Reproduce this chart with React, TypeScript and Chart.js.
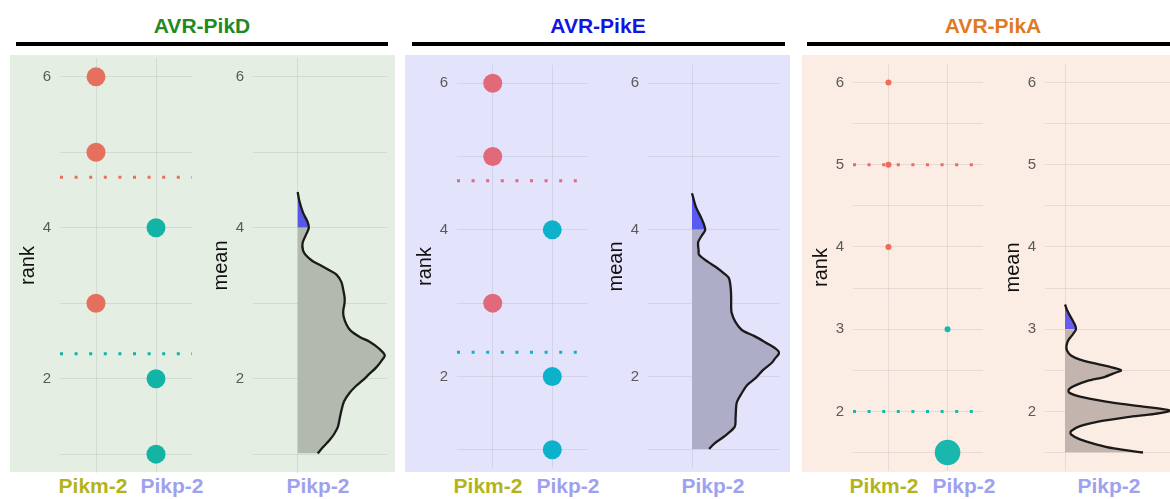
import React, { useEffect, useRef } from 'react';
import { Chart, registerables } from 'chart.js';

Chart.register(...registerables);

// ---------------- DATA ----------------
const panelTitles = ['AVR-PikD', 'AVR-PikE', 'AVR-PikA'];
const categories = ['Pikm-2', 'Pikp-2'];
const densityCategory = 'Pikp-2';
const rankTitle = 'rank';
const meanTitle = 'mean';

// AVR-PikD
const pikdPikm2Ranks = [6, 5, 3];
const pikdPikp2Ranks = [4, 2, 1];
const pikdGroupMeans = [4.67, 2.33];
const pikdGridValues = [1, 2, 3, 4, 5, 6];
const pikdTickLabels = [2, 4, 6];
const pikdDensityMean = [4.475, 4.35, 4.2, 4.08, 4.0, 3.9, 3.8, 3.7, 3.64, 3.56, 3.51, 3.44, 3.38, 3.28, 3.18, 3.08, 3.0, 2.9, 2.82, 2.72, 2.64, 2.55, 2.49, 2.4, 2.31, 2.24, 2.15, 2.06, 1.98, 1.9, 1.81, 1.7, 1.58, 1.47, 1.36, 1.27, 1.19, 1.1, 1.01];
const pikdDensity = [0, 0.04, 0.12, 0.22, 0.25, 0.18, 0.11, 0.12, 0.18, 0.33, 0.49, 0.7, 0.87, 0.98, 1.02, 1.05, 1.05, 1.02, 1.03, 1.09, 1.18, 1.4, 1.61, 1.82, 1.95, 1.88, 1.76, 1.6, 1.46, 1.3, 1.16, 1.04, 0.98, 0.94, 0.9, 0.82, 0.72, 0.58, 0.45];
const pikdCutoff = 4;

// AVR-PikE
const pikePikm2Ranks = [6, 5, 3];
const pikePikp2Ranks = [4, 2, 1];
const pikeGroupMeans = [4.67, 2.33];
const pikeGridValues = [1, 2, 3, 4, 5, 6];
const pikeTickLabels = [2, 4, 6];
const pikeDensityMean = [4.5, 4.31, 4.15, 4.0, 3.92, 3.83, 3.72, 3.66, 3.56, 3.49, 3.4, 3.34, 3.2, 3.08, 2.95, 2.87, 2.75, 2.63, 2.55, 2.46, 2.38, 2.32, 2.24, 2.19, 2.08, 1.98, 1.88, 1.78, 1.65, 1.55, 1.43, 1.31, 1.18, 1.08, 1.01];
const pikeDensity = [0, 0.09, 0.22, 0.3, 0.22, 0.14, 0.15, 0.16, 0.37, 0.55, 0.74, 0.84, 0.88, 0.89, 0.89, 0.9, 0.98, 1.14, 1.42, 1.68, 1.9, 1.98, 1.88, 1.82, 1.6, 1.45, 1.25, 1.14, 1.02, 1.0, 0.99, 0.97, 0.73, 0.5, 0.39];
const pikeCutoff = 4;

// AVR-PikA
const pikaPikm2Ranks = [6, 5, 4];
const pikaPikp2Ranks = [3, 1.5];
const pikaGroupMeans = [5, 2];
const pikaGridValues = [1.5, 2, 2.5, 3, 3.5, 4, 4.5, 5, 5.5, 6];
const pikaTickLabels = [2, 3, 4, 5, 6];
const pikaDensityMean = [3.3, 3.22, 3.12, 3.05, 3.0, 2.94, 2.87, 2.8, 2.74, 2.68, 2.63, 2.59, 2.55, 2.5, 2.46, 2.42, 2.37, 2.32, 2.27, 2.23, 2.18, 2.12, 2.07, 2.01, 1.97, 1.93, 1.87, 1.82, 1.76, 1.72, 1.66, 1.6, 1.55, 1.5];
const pikaDensity = [0, 0.05, 0.14, 0.2, 0.22, 0.16, 0.07, 0.03, 0.04, 0.12, 0.3, 0.55, 0.84, 1.12, 0.96, 0.8, 0.45, 0.22, 0.08, 0.08, 0.3, 0.82, 1.4, 2.1, 1.8, 1.25, 0.62, 0.3, 0.12, 0.12, 0.3, 0.62, 0.98, 1.56];
const pikaCutoff = 3;

// ---------------- STYLE / LAYOUT ----------------
const FONT = '"Liberation Sans", Arial, Helvetica, sans-serif';
const AXIS_W = 48;
const GRID = 'rgba(0,0,0,0.075)';
const TICK_COLOR = '#5a5a5a';
const PIKM_LABEL = '#b4b41a';
const PIKP_LABEL = '#9ea2ee';

type Panel = {
  title: string; titleColor: string; titleX: number;
  bgLeft: number; bgWidth: number; bgColor: string;
  ruleLeft: number; ruleWidth: number;
  plotTop: number; plotHeight: number; yMin: number; yMax: number;
  grid: number[]; tickLabels: number[];
  scatterLeft: number; scatterWidth: number;
  densityLeft: number; densityWidth: number; dxMin: number; dxMax: number;
  pikm: number[]; pikp: number[]; pikmRadius: number[]; pikpRadius: number[];
  means: number[]; red: string; teal: string;
  dMean: number[]; d: number[]; cutoff: number; fill: string; cutFill: string;
  labelX: number[];
};

const panels: Panel[] = [
  {
    title: panelTitles[0], titleColor: '#1f8a1f', titleX: 202,
    bgLeft: 10, bgWidth: 385, bgColor: '#e4eee3', ruleLeft: 16, ruleWidth: 372,
    plotTop: 58, plotHeight: 415, yMin: 0.75, yMax: 6.25,
    grid: pikdGridValues, tickLabels: pikdTickLabels,
    scatterLeft: 60, scatterWidth: 132, densityLeft: 253, densityWidth: 134, dxMin: -1, dxMax: 2,
    pikm: pikdPikm2Ranks, pikp: pikdPikp2Ranks, pikmRadius: [9.5, 9.5, 9.5], pikpRadius: [9.5, 9.5, 9.5],
    means: pikdGroupMeans, red: '#e6705e', teal: '#13b3a6',
    dMean: pikdDensityMean, d: pikdDensity, cutoff: pikdCutoff, fill: '#b2b9af', cutFill: '#5858e6',
    labelX: [93, 172, 318],
  },
  {
    title: panelTitles[1], titleColor: '#1414e0', titleX: 598,
    bgLeft: 405, bgWidth: 385, bgColor: '#e3e3fb', ruleLeft: 412, ruleWidth: 373,
    plotTop: 65, plotHeight: 403, yMin: 0.75, yMax: 6.25,
    grid: pikeGridValues, tickLabels: pikeTickLabels,
    scatterLeft: 457, scatterWidth: 131, densityLeft: 648, densityWidth: 132, dxMin: -1, dxMax: 2,
    pikm: pikePikm2Ranks, pikp: pikePikp2Ranks, pikmRadius: [9.5, 9.5, 9.5], pikpRadius: [9.5, 9.5, 9.5],
    means: pikeGroupMeans, red: '#e1697a', teal: '#0cb2cc',
    dMean: pikeDensityMean, d: pikeDensity, cutoff: pikeCutoff, fill: '#adadc8', cutFill: '#5a5af0',
    labelX: [488, 568, 713],
  },
  {
    title: panelTitles[2], titleColor: '#e07a22', titleX: 993,
    bgLeft: 802, bgWidth: 380, bgColor: '#fbede4', ruleLeft: 807, ruleWidth: 380,
    plotTop: 64, plotHeight: 407, yMin: 1.275, yMax: 6.225,
    grid: pikaGridValues, tickLabels: pikaTickLabels,
    scatterLeft: 853, scatterWidth: 130, densityLeft: 1045, densityWidth: 130, dxMin: -0.4, dxMax: 2.2,
    pikm: pikaPikm2Ranks, pikp: pikaPikp2Ranks, pikmRadius: [3, 3, 3], pikpRadius: [3, 12.8],
    means: pikaGroupMeans, red: '#ee6b5b', teal: '#1ab7ac',
    dMean: pikaDensityMean, d: pikaDensity, cutoff: pikaCutoff, fill: '#c3b5ad', cutFill: '#6a5cf0',
    labelX: [884, 964, 1109],
  },
];

// ---------------- CHART HELPERS ----------------
function yScale(p: Panel, title: string) {
  return {
    type: 'linear', position: 'left', min: p.yMin, max: p.yMax, bounds: 'data',
    afterBuildTicks: (s: any) => { s.ticks = p.grid.map((v) => ({ value: v })); },
    afterFit: (s: any) => { s.width = AXIS_W; s.paddingTop = 0; s.paddingBottom = 0; },
    ticks: {
      padding: 9, color: TICK_COLOR, font: { family: FONT, size: 15 },
      autoSkip: false,
      callback: (v: any) => (p.tickLabels.includes(Number(v)) ? String(v) : ''),
    },
    grid: { color: GRID, drawTicks: false, lineWidth: 1 },
    border: { display: false },
    title: { display: true, text: title, color: '#111', font: { family: FONT, size: 20 }, padding: { top: 4, bottom: 0 } },
  };
}

function xScale(min: number, max: number, gridAt: number[]) {
  return {
    type: 'linear', position: 'bottom', min, max, bounds: 'data',
    afterBuildTicks: (s: any) => { s.ticks = gridAt.map((v) => ({ value: v })); },
    afterFit: (s: any) => { s.height = 0; s.paddingLeft = 0; s.paddingRight = 0; },
    ticks: { display: false },
    grid: { color: GRID, drawTicks: false, lineWidth: 1 },
    border: { display: false },
  };
}

const baseOptions = {
  responsive: false,
  maintainAspectRatio: false,
  animation: false,
  events: [],
  layout: { padding: 0, autoPadding: false },
  plugins: { legend: { display: false }, tooltip: { enabled: false } },
};

function scatterConfig(p: Panel): any {
  const xPos = categories.map((_, i) => i + 1);
  const xMin = 0.4, xMax = categories.length + 0.6;
  return {
    type: 'scatter',
    data: {
      datasets: [
        { data: p.pikm.map((v) => ({ x: xPos[0], y: v })), pointRadius: p.pikmRadius, backgroundColor: p.red, pointBorderWidth: 0, borderWidth: 0, clip: false },
        { data: p.pikp.map((v) => ({ x: xPos[1], y: v })), pointRadius: p.pikpRadius, backgroundColor: p.teal, pointBorderWidth: 0, borderWidth: 0, clip: false },
        { data: [{ x: xMin, y: p.means[0] }, { x: xMax, y: p.means[0] }], showLine: true, pointRadius: 0, borderColor: p.red, borderWidth: 3, borderDash: [3, 11.6], borderCapStyle: 'butt' },
        { data: [{ x: xMin, y: p.means[1] }, { x: xMax, y: p.means[1] }], showLine: true, pointRadius: 0, borderColor: p.teal, borderWidth: 3, borderDash: [3, 11.6], borderCapStyle: 'butt' },
      ],
    },
    options: {
      ...baseOptions,
      scales: { x: xScale(xMin, xMax, xPos), y: yScale(p, rankTitle) },
    },
  };
}

function densityConfig(p: Panel): any {
  const pts = p.dMean.map((m, i) => ({ x: p.d[i], y: m }));
  const above = pts.filter((pt) => pt.y >= p.cutoff);
  const below = pts.filter((pt) => pt.y <= p.cutoff);
  const common = { pointRadius: 0, tension: 0.3 };
  return {
    type: 'line',
    data: {
      datasets: [
        { ...common, data: pts, borderColor: '#1a1a1a', borderWidth: 2.3, fill: false },
        { ...common, data: above, borderColor: 'rgba(0,0,0,0)', borderWidth: 0.01, backgroundColor: p.cutFill, fill: 'origin' },
        { ...common, data: below, borderColor: 'rgba(0,0,0,0)', borderWidth: 0.01, backgroundColor: p.fill, fill: 'origin' },
      ],
    },
    options: {
      ...baseOptions,
      indexAxis: 'y',
      scales: { x: xScale(p.dxMin, p.dxMax, [0]), y: yScale(p, meanTitle) },
    },
  };
}

function ChartCanvas({ left, top, width, height, make }: { left: number; top: number; width: number; height: number; make: () => any }) {
  const ref = useRef<HTMLCanvasElement>(null);
  useEffect(() => {
    const chart = new Chart(ref.current as HTMLCanvasElement, make());
    return () => chart.destroy();
  }, []);
  return <canvas ref={ref} width={width} height={height} style={{ position: 'absolute', left, top, width, height }} />;
}

function Label({ x, top, color, size, text }: { x: number; top: number; color: string; size: number; text: string }) {
  return (
    <div style={{ position: 'absolute', left: x, top, transform: 'translateX(-50%)', whiteSpace: 'nowrap', color, fontFamily: FONT, fontWeight: 700, fontSize: size, lineHeight: `${size}px` }}>
      {text}
    </div>
  );
}

function PanelView({ p }: { p: Panel }) {
  return (
    <>
      <div style={{ position: 'absolute', left: p.bgLeft, top: 55, width: p.bgWidth, height: 417, background: p.bgColor }} />
      <div style={{ position: 'absolute', left: p.ruleLeft, top: 42, width: p.ruleWidth, height: 4, background: '#000' }} />
      <Label x={p.titleX} top={15} color={p.titleColor} size={21} text={p.title} />
      <ChartCanvas left={p.scatterLeft - AXIS_W} top={p.plotTop} width={AXIS_W + p.scatterWidth} height={p.plotHeight} make={() => scatterConfig(p)} />
      <ChartCanvas left={p.densityLeft - AXIS_W} top={p.plotTop} width={AXIS_W + p.densityWidth} height={p.plotHeight} make={() => densityConfig(p)} />
      <Label x={p.labelX[0]} top={475} color={PIKM_LABEL} size={21} text={categories[0]} />
      <Label x={p.labelX[1]} top={475} color={PIKP_LABEL} size={21} text={categories[1]} />
      <Label x={p.labelX[2]} top={475} color={PIKP_LABEL} size={21} text={densityCategory} />
    </>
  );
}

export default function App() {
  return (
    <div style={{ position: 'fixed', left: 0, top: 0, width: 1170, height: 499, overflow: 'hidden', background: '#fff' }}>
      {panels.map((p, i) => <PanelView key={i} p={p} />)}
    </div>
  );
}
